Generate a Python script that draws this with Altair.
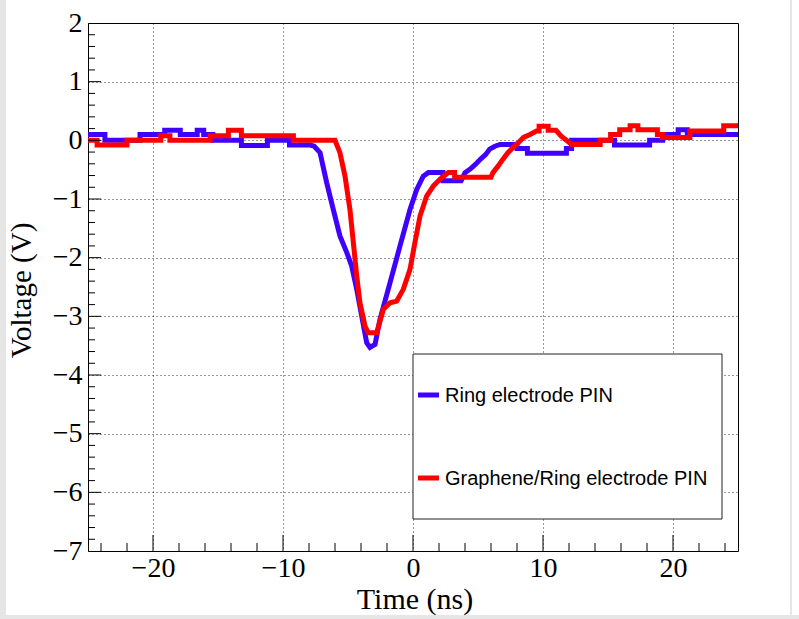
import altair as alt
import pandas as pd

# Ring electrode PIN (blue) trace vertices
blue_x = [-25, -23.7, -23.7, -21.0, -21.0, -19.1, -19.1, -17.9, -17.9, -16.6, -16.6, -16.1, -16.1, -15.4,
          -15.4, -13.2, -13.2, -11.2, -11.2, -9.5, -9.5, -7.9,
          -7.6, -7.15, -6.64, -6.13, -5.62, -5.1, -4.72, -4.33, -3.95, -3.56, -3.31, -2.92,
          -2.54, -1.77, -1.0, -0.23, 0.28, 0.79, 1.18, 2.3, 2.3, 3.7, 4.0, 4.4, 4.8, 5.2, 5.6, 5.9,
          6.3, 6.7, 8.0, 8.0, 8.8, 8.8, 11.8, 11.8, 12.2, 12.2, 15.5, 15.5, 18.2, 18.2, 19.2, 19.2,
          20.4, 20.4, 21.1, 21.1, 25]
blue_y = [0.1, 0.1, 0, 0, 0.1, 0.1, 0.17, 0.17, 0.1, 0.1, 0.17, 0.17, 0.1, 0.1,
          0, 0, -0.09, -0.09, 0, 0, -0.08, -0.08,
          -0.1, -0.21, -0.72, -1.18, -1.63, -1.91, -2.14, -2.54, -2.99, -3.45, -3.53, -3.48,
          -3.05, -2.43, -1.8, -1.18, -0.84, -0.61, -0.55, -0.55, -0.69, -0.69, -0.55, -0.49, -0.41, -0.32, -0.24, -0.15,
          -0.1, -0.07, -0.07, -0.14, -0.14, -0.22, -0.22, -0.14, -0.14, 0, 0, -0.08, -0.08, 0, 0, 0.1,
          0.1, 0.18, 0.18, 0.1, 0.1]

# Graphene/Ring electrode PIN (red) trace vertices
red_x = [-25, -24.3, -24.3, -22.0, -22.0, -19.4, -19.4, -18.7, -18.7, -15.6, -15.6, -14.2, -14.2, -13.2,
         -13.2, -9.2, -9.2, -6.0,
         -5.62, -5.23, -4.85, -4.59, -4.33, -4.08, -3.69, -3.44, -2.79, -2.28, -1.77, -1.25, -0.75,
         -0.23, 0.15, 0.54, 1.05, 1.56, 2.08, 2.72, 3.2, 3.2, 6.0, 6.15, 6.54, 6.92, 7.3, 7.7, 8.1,
         8.5, 9.0, 9.5, 9.7, 9.7, 10.4, 10.4, 11.0, 11.4, 11.8, 12.2, 14.4, 14.4, 15.2, 15.2, 15.9,
         15.9, 16.7, 16.7, 17.3, 17.3, 18.8, 18.8, 19.2, 19.2, 21.3, 21.3, 23.9, 23.9, 25]
red_y = [0, 0, -0.08, -0.08, 0, 0, 0.08, 0.08, 0, 0, 0.08, 0.08, 0.17, 0.17,
         0.08, 0.08, 0, 0,
         -0.21, -0.61, -1.18, -1.74, -2.31, -2.77, -3.17, -3.28, -3.28, -2.88, -2.77, -2.74, -2.54,
         -2.2, -1.74, -1.29, -0.95, -0.78, -0.66, -0.55, -0.55, -0.63, -0.63, -0.55, -0.44, -0.32, -0.21, -0.12, -0.04,
         0.05, 0.1, 0.16, 0.16, 0.24, 0.24, 0.17, 0.17, 0.07, 0.0, -0.07, -0.07, 0, 0, 0.1, 0.1,
         0.18, 0.18, 0.25, 0.25, 0.18, 0.18, 0.1, 0.1, 0.05, 0.05, 0.16, 0.16, 0.25, 0.25]

series_names = ["Ring electrode PIN", "Graphene/Ring electrode PIN"]
series_colors = ["#3f00ff", "#ff0000"]

x_major = [-20, -10, 0, 10, 20]
x_minor = [-24, -22, -18, -16, -14, -12, -8, -6, -4, -2, 2, 4, 6, 8, 12, 14, 16, 18, 22, 24]
y_major = [-6, -5, -4, -3, -2, -1, 0, 1]
y_minor = [round(-7 + 0.2 * i, 1) for i in range(1, 45) if i % 5 != 0]
y_label_values = [-7, -6, -5, -4, -3, -2, -1, 0, 1, 2]
x_title = "Time (ns)"
y_title = "Voltage (V)"

W, H = 650, 528
SERIF = "Liberation Serif"
SANS = "Liberation Sans"

xaxis = alt.Axis(values=x_major, title=None, grid=True, gridDash=[1, 3], gridColor="#000000",
                 gridOpacity=0.8, ticks=False, tickSize=0, domain=False,
                 labelFont=SERIF, labelFontSize=28, labelColor="black", labelPadding=25,
                 labelBaseline="alphabetic", labelFlush=False)
yaxis = alt.Axis(values=y_label_values, title=y_title, grid=True, gridDash=[1, 3], gridColor="#000000",
                 gridOpacity=0.8, ticks=False, tickSize=0, domain=False,
                 labelFont=SERIF, labelFontSize=28, labelColor="black", labelPadding=6,
                 labelBaseline="middle", labelAlign="right",
                 titleFont=SERIF, titleFontSize=29, titleFontWeight="normal", titleColor="black",
                 titleX=-58, titleY=267, titleAngle=-90, titleBaseline="alphabetic", titleAlign="center")

X = alt.X("x:Q", scale=alt.Scale(domain=[-25, 25], nice=False, zero=False), axis=xaxis)
Y = alt.Y("y:Q", scale=alt.Scale(domain=[-7, 2], nice=False, zero=False), axis=yaxis)

blue_df = pd.DataFrame({"x": blue_x, "y": blue_y, "idx": range(len(blue_x))})
red_df = pd.DataFrame({"x": red_x, "y": red_y, "idx": range(len(red_x))})

blue_line = alt.Chart(blue_df).mark_line(color=series_colors[0], strokeWidth=5, strokeJoin="miter",
                                          strokeCap="butt", clip=True).encode(x=X, y=Y, order="idx:Q")
red_line = alt.Chart(red_df).mark_line(color=series_colors[1], strokeWidth=5, strokeJoin="miter",
                                        strokeCap="butt", clip=True).encode(x=X, y=Y, order="idx:Q")

xmaj = alt.Chart(pd.DataFrame({"x": x_major})).mark_rule(color="black", strokeWidth=1).encode(
    x=X, y=alt.value(H), y2=alt.value(H - 16))
xmin = alt.Chart(pd.DataFrame({"x": x_minor})).mark_rule(color="black", strokeWidth=1).encode(
    x=X, y=alt.value(H), y2=alt.value(H - 8))
ymaj = alt.Chart(pd.DataFrame({"y": y_major})).mark_rule(color="black", strokeWidth=1).encode(
    y=Y, x=alt.value(0), x2=alt.value(13))
ymin = alt.Chart(pd.DataFrame({"y": y_minor})).mark_rule(color="black", strokeWidth=1).encode(
    y=Y, x=alt.value(0), x2=alt.value(7))

one = pd.DataFrame({"a": [0]})
leg_box = alt.Chart(one).mark_rect(fill="white", stroke="#222222", strokeWidth=1).encode(
    x=alt.value(325), x2=alt.value(634), y=alt.value(331), y2=alt.value(496))
leg_items = []
for i, (name, col) in enumerate(zip(series_names, series_colors)):
    yy = 372 + i * 83
    d = pd.DataFrame({"label": [name]})
    leg_items.append(alt.Chart(d).mark_rule(color=col, strokeWidth=5).encode(
        x=alt.value(330), x2=alt.value(351), y=alt.value(yy)))
    leg_items.append(alt.Chart(d).mark_text(font=SANS, fontSize=20, align="left", baseline="middle",
                                            color="black").encode(
        text="label:N", x=alt.value(357), y=alt.value(yy + 1)))

# window border strips
strip_l = alt.Chart(one).mark_rect(fill="#e6e6e6").encode(
    x=alt.value(-88), x2=alt.value(-82), y=alt.value(-23), y2=alt.value(596))
strip_b = alt.Chart(one).mark_rect(fill="#e6e6e6").encode(
    x=alt.value(-88), x2=alt.value(711), y=alt.value(592), y2=alt.value(596))
edge_r = alt.Chart(one).mark_rule(color="#cccccc", strokeWidth=1).encode(
    x=alt.value(703), y=alt.value(-23), y2=alt.value(592))

xtitle = alt.Chart(pd.DataFrame({"t": [x_title]})).mark_text(
    font=SERIF, fontSize=30, align="center", baseline="alphabetic", color="black").encode(
    text="t:N", x=alt.value(327), y=alt.value(H + 58))

chart = alt.layer(
    blue_line, red_line, xmaj, xmin, ymaj, ymin, leg_box, *leg_items, strip_l, strip_b, edge_r, xtitle
).properties(
    width=W, height=H,
    autosize=alt.AutoSizeParams(type="none"),
    padding={"left": 88, "top": 23, "right": 61, "bottom": 68},
    background="white",
).configure_view(stroke="black", strokeWidth=1)

chart.save("out.html", embed_options={"renderer": "svg", "actions": False})
